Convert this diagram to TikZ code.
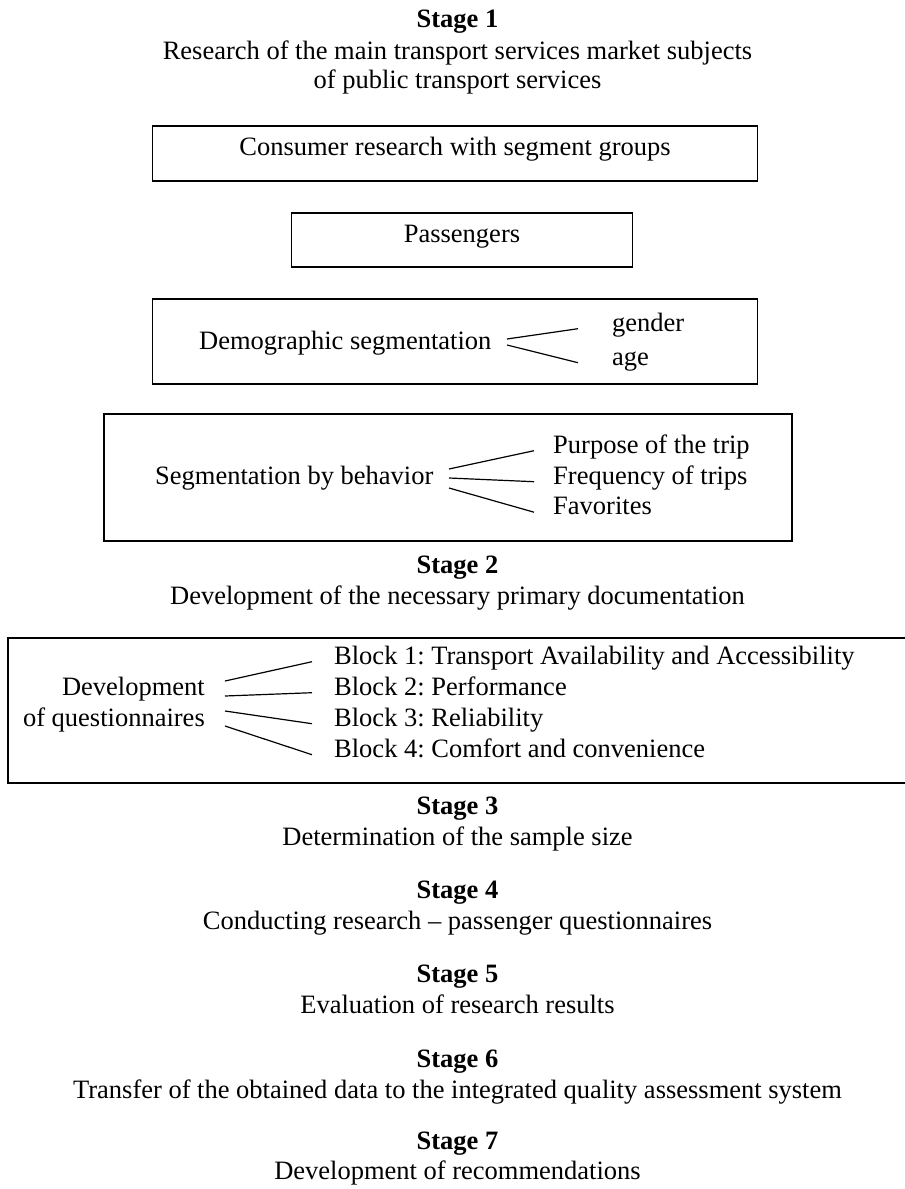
\documentclass[tikz,border=0pt]{standalone}
\usepackage{fontspec}
\setmainfont{Liberation Serif}
\usetikzlibrary{calc}
\frenchspacing
\newcommand{\bodyfont}{\fontsize{26.5pt}{30pt}\selectfont}
\begin{document}
\begin{tikzpicture}[x=1pt,y=-1pt,
  txt/.style={inner sep=0pt, text height=0.68em, text depth=0.22em, font=\bodyfont},
  ctr/.style={txt, anchor=base},
  lft/.style={txt, anchor=base west},
  rgt/.style={txt, anchor=base east},
  stagehead/.style={ctr, font=\bodyfont\bfseries},
  frame/.style={draw, line width=1.9pt, inner sep=0pt},
  branch/.style={line width=1.2pt}]
\useasboundingbox (0,0) rectangle (905,1189);
\clip (0,0) rectangle (905,1189);

% ---- Stage 1 ----
\node[stagehead] (st1) at (457.5,27) {Stage 1};
\node[ctr] (st1a) at (457.5,59) {Research of the main transport services market subjects};
\node[ctr] (st1b) at (457.5,88) {of public transport services};

\node[frame, txt, minimum width=605pt, minimum height=55pt] (consumer) at (455,153.5) {Consumer research with segment groups};
\node[frame, txt, minimum width=341pt, minimum height=54pt] (pass) at (462,240) {Passengers};

% demographic segmentation
\node[frame, minimum width=605pt, minimum height=85pt] (demobox) at (455,341.5) {};
\node[lft] (demo) at (199,349) {Demographic segmentation};
\node[lft] (gender) at (612,331) {gender};
\node[lft] (age) at (612,365) {age};
\coordinate (dm1) at (507,339);
\coordinate (dm2) at (507,345);
\draw[branch] (dm1) -- ([xshift=-34pt]gender.west);
\draw[branch] (dm2) -- ([xshift=-34pt]age.west);

% behavioural segmentation
\node[frame, minimum width=688pt, minimum height=127pt] (behbox) at (448,477.5) {};
\node[lft] (beh) at (155,484) {Segmentation by behavior};
\node[lft] (purpose) at (553,453) {Purpose of the trip};
\node[lft] (freq) at (553,484) {Frequency of trips};
\node[lft] (fav) at (553,514.5) {Favorites};
\coordinate (bh1) at (449,469);
\coordinate (bh2) at (449,478);
\coordinate (bh3) at (449,488);
\draw[branch] (bh1) -- ([xshift=-19pt]purpose.west);
\draw[branch] (bh2) -- ([xshift=-19pt]freq.west);
\draw[branch] (bh3) -- ([xshift=-19pt]fav.west);

% ---- Stage 2 ----
\node[stagehead] (st2) at (457.5,573) {Stage 2};
\node[ctr] (st2a) at (457.5,604) {Development of the necessary primary documentation};

\node[frame, minimum width=920pt, minimum height=145pt, anchor=west] (qbox) at (7,710.5) {};
\node[rgt] (dev1) at (205,695) {Development};
\node[rgt] (dev2) at (205,726) {of questionnaires};
\node[lft] (blk1) at (334,664) {Block 1: Transport Availability and Accessibility};
\node[lft] (blk2) at (334,695) {Block 2: Performance};
\node[lft] (blk3) at (334,726) {Block 3: Reliability};
\node[lft] (blk4) at (334,757) {Block 4: Comfort and convenience};
\coordinate (q1) at (225,681);
\coordinate (q2) at (225,696);
\coordinate (q3) at (225,711);
\coordinate (q4) at (225,726);
\draw[branch] (q1) -- ([xshift=-22pt]blk1.west);
\draw[branch] (q2) -- ([xshift=-22pt]blk2.west);
\draw[branch] (q3) -- ([xshift=-22pt]blk3.west);
\draw[branch] (q4) -- ([xshift=-22pt]blk4.west);

% ---- Stages 3 to 7 ----
\node[stagehead] (st3) at (457.5,814) {Stage 3};
\node[ctr] (st3a) at (457.5,845) {Determination of the sample size};
\node[stagehead] (st4) at (457.5,898) {Stage 4};
\node[ctr] (st4a) at (457.5,929) {Conducting research – passenger questionnaires};
\node[stagehead] (st5) at (457.5,982) {Stage 5};
\node[ctr] (st5a) at (457.5,1013) {Evaluation of research results};
\node[stagehead] (st6) at (457.5,1067) {Stage 6};
\node[ctr] (st6a) at (457.5,1098) {Transfer of the obtained data to the integrated quality assessment system};
\node[stagehead] (st7) at (457.5,1149) {Stage 7};
\node[ctr] (st7a) at (457.5,1179) {Development of recommendations};
\end{tikzpicture}
\end{document}
